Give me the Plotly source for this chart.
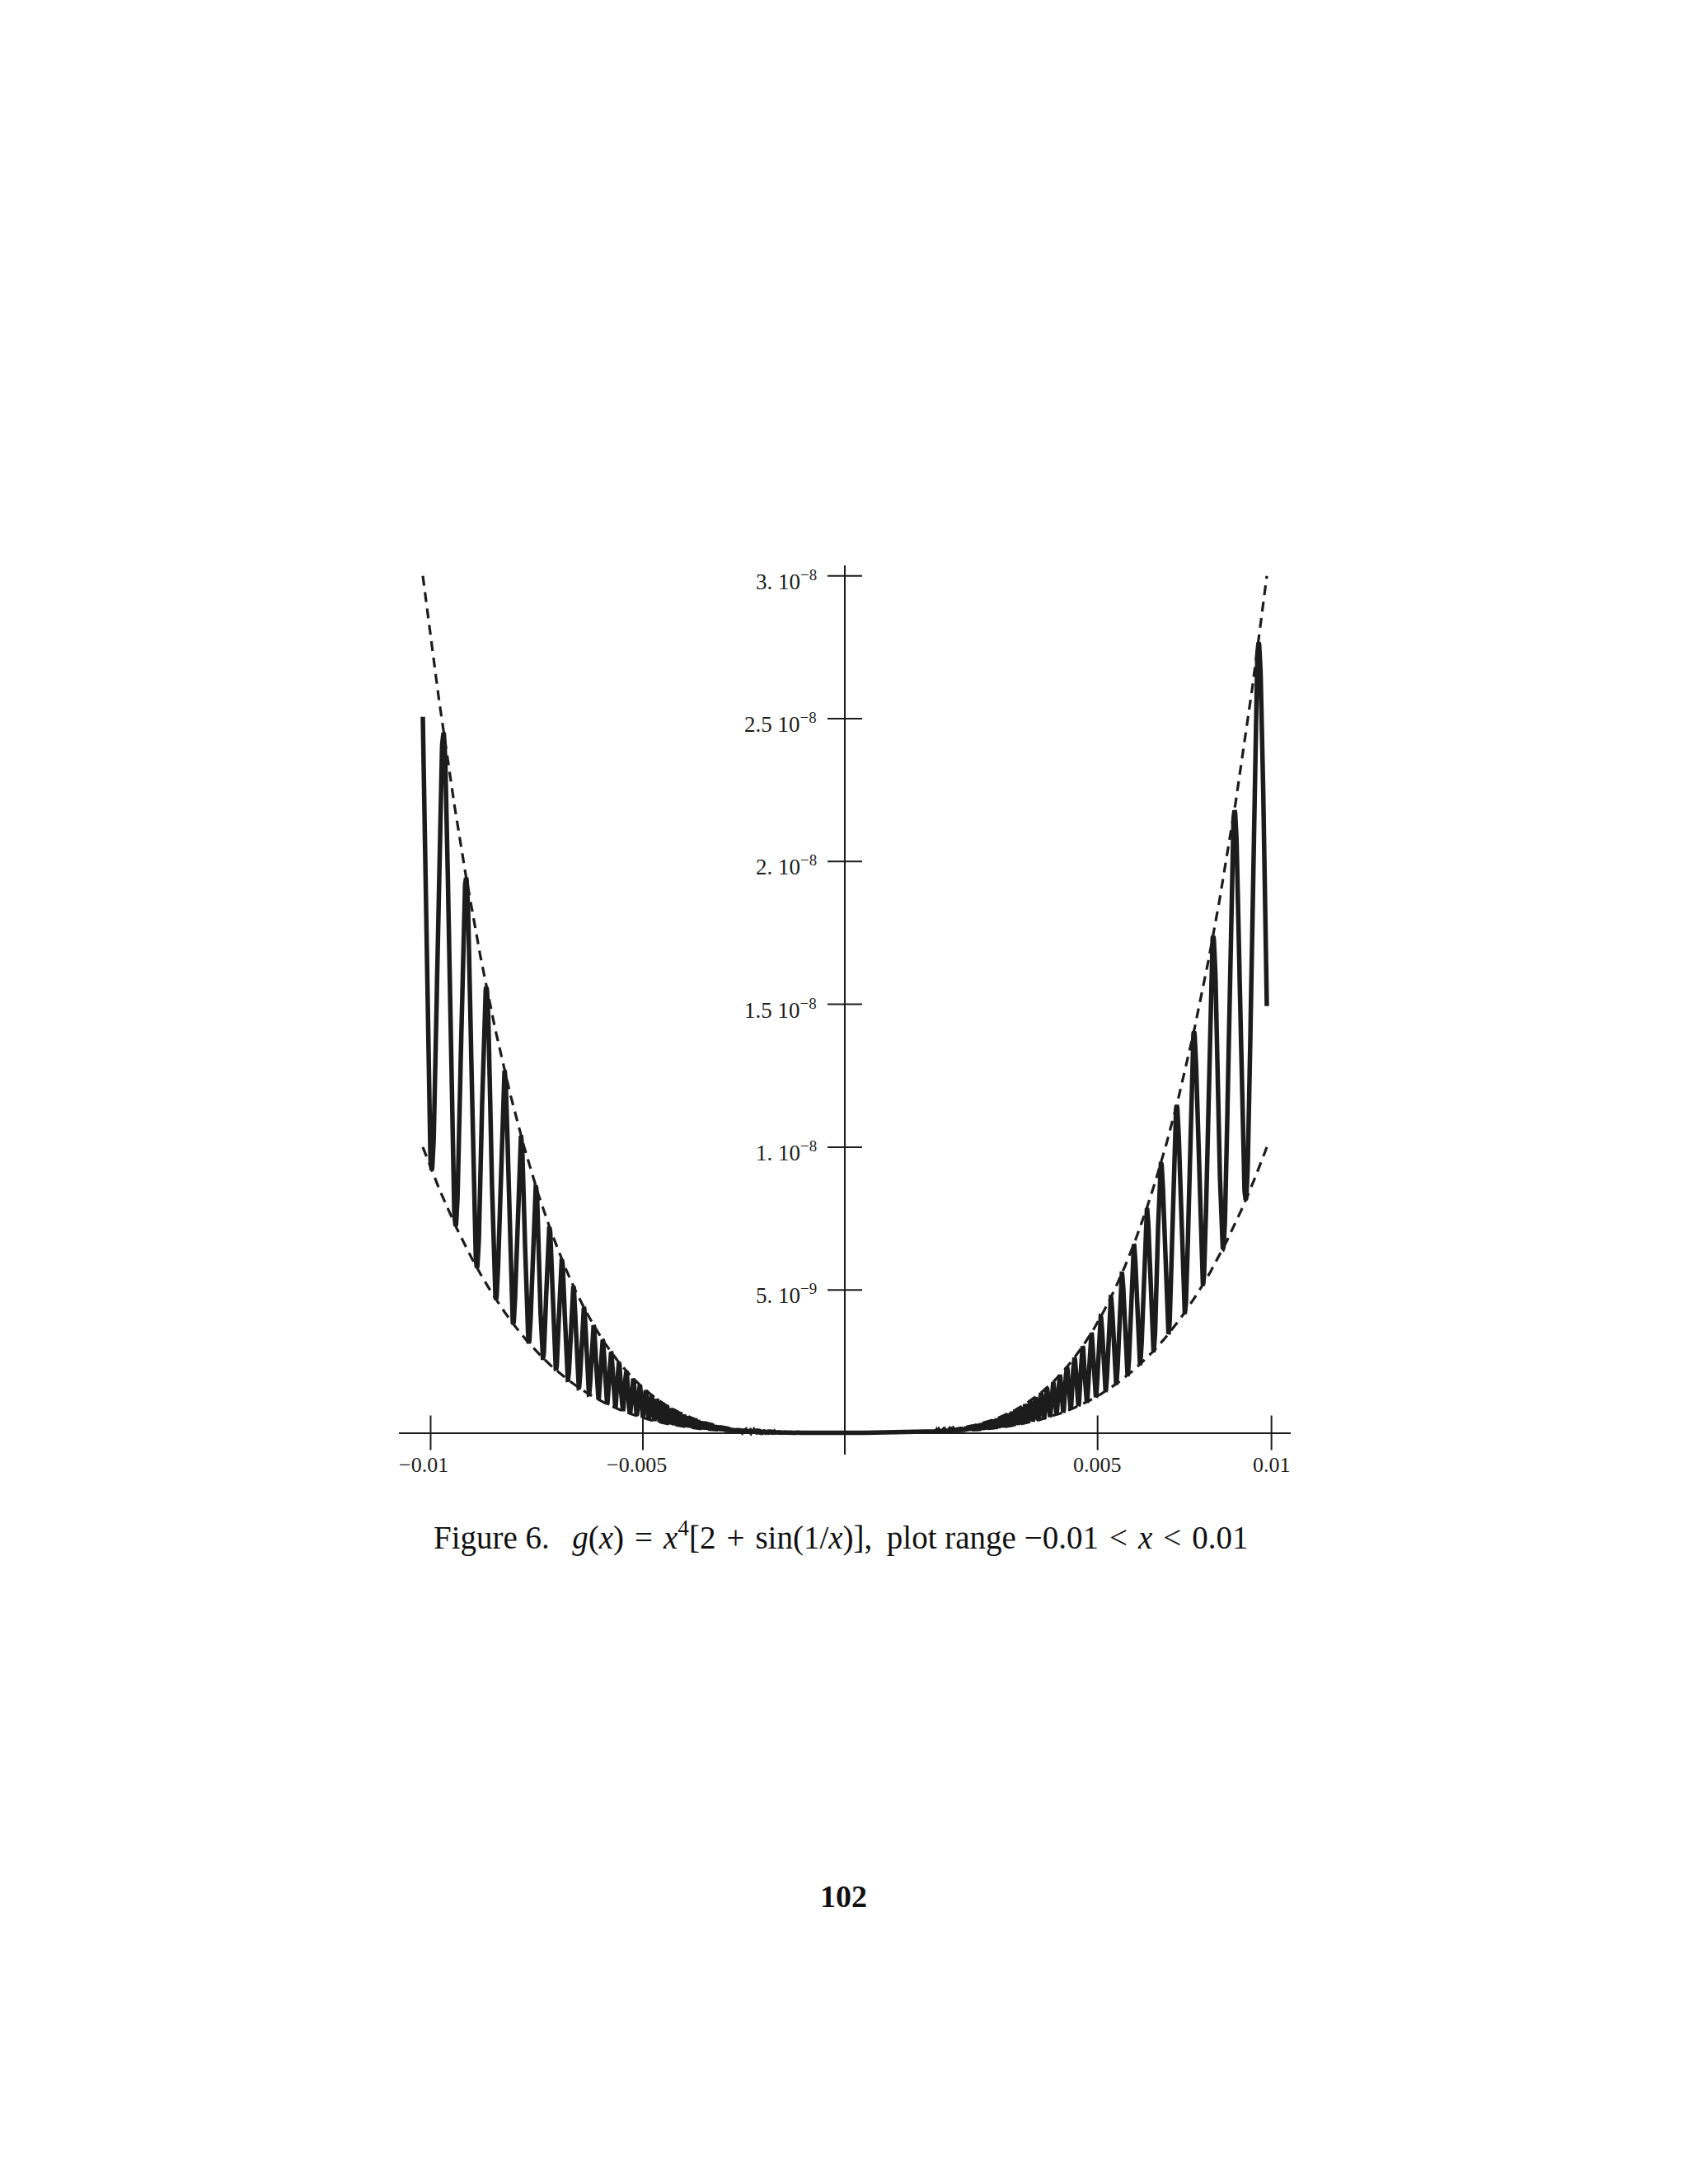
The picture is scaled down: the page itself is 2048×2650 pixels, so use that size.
import numpy as np
import plotly.graph_objects as go

# ---- data ----
# The plotted function g(x) = x^4 [2 + sin(1/x)] is stated in the figure caption;
# the curve and its envelopes x^4 and 3x^4 are sampled over the stated plot range.
x_range_plot = [-0.01, 0.01]
n_samples = 4000
envelope_factors = [1.0, 3.0]

x_tick_vals = [-0.009815, -0.004785, 0.00599, 0.01011]   # where the reference draws its x ticks
x_tick_text = ["\u22120.01", "\u22120.005", "0.005", "0.01"]
y_tick_vals = [5e-9, 1e-8, 1.5e-8, 2e-8, 2.5e-8, 3e-8]
y_tick_text = ["5. 10<sup>\u22129</sup>", "1. 10<sup>\u22128</sup>", "1.5 10<sup>\u22128</sup>",
               "2. 10<sup>\u22128</sup>", "2.5 10<sup>\u22128</sup>", "3. 10<sup>\u22128</sup>"]

NB = "\u00a0"
TH = "\u2009"   # thin space
HR = "\u200a"   # hair space
caption = ("Figure" + NB + "6." + NB * 2 + TH + "<i>g</i>(<i>x</i>)" + NB + HR + "=" + HR + NB +
           "<i>x</i><sup>4</sup>[2" + NB + HR + "+" + HR + NB + "sin(1/<i>x</i>)]," + NB + TH +
           "plot" + NB + "range" + NB + "\u22120.01" + NB + HR + "<" + HR + NB + "<i>x</i>" +
           NB + HR + "<" + HR + NB + "0.01")
page_number = "<b>102</b>"

x = np.linspace(x_range_plot[0], x_range_plot[1], n_samples)
g = x**4 * (2 + np.sin(1 / x))
lower = envelope_factors[0] * x**4
upper = envelope_factors[1] * x**4

# ---- layout geometry (page body has an 8px offset) ----
OFF = 8
W, H = 2048, 2650
L, R, T, B = 484 - OFF, 1566 - OFF, 686 - OFF, 1765 - OFF
ink = "#1c1c1c"

fig = go.Figure()
fig.add_trace(go.Scatter(x=x, y=upper, mode="lines",
                         line=dict(color=ink, width=3.2, dash="12px,8px"), hoverinfo="skip"))
fig.add_trace(go.Scatter(x=x, y=lower, mode="lines",
                         line=dict(color=ink, width=3.2, dash="12px,8px"), hoverinfo="skip"))
fig.add_trace(go.Scatter(x=x, y=g, mode="lines",
                         line=dict(color=ink, width=5.5), hoverinfo="skip"))

# crossing tick marks on the zero lines
fig.add_trace(go.Scatter(x=x_tick_vals, y=[0] * len(x_tick_vals), mode="markers",
                         marker=dict(symbol="line-ns", size=30, line=dict(width=2, color=ink)),
                         hoverinfo="skip", cliponaxis=False))
fig.add_trace(go.Scatter(x=[0] * len(y_tick_vals), y=y_tick_vals, mode="markers",
                         marker=dict(symbol="line-ew", size=30, line=dict(width=2, color=ink)),
                         hoverinfo="skip", cliponaxis=False))

x_font = dict(family="Liberation Serif, Times New Roman, serif", size=26, color=ink)
y_font = dict(family="Liberation Serif, Times New Roman, serif", size=27, color=ink)
for v, t in zip(x_tick_vals, x_tick_text):
    fig.add_annotation(x=v, y=0, text=t, showarrow=False, xanchor="center", yanchor="middle",
                       yshift=-39, xshift=(-8 if t.startswith("\u2212") else 0), font=x_font)
for v, t in zip(y_tick_vals, y_tick_text):
    fig.add_annotation(x=0, y=v, text=t, showarrow=False, xanchor="right", yanchor="middle",
                       xshift=-32, yshift=-5, font=y_font)

def py(pix):
    return (B - (pix - OFF)) / (B - T)

def px(pix):
    return ((pix - OFF) - L) / (R - L)

fig.add_annotation(xref="paper", yref="paper", x=px(1020), y=py(1863), text=caption,
                   showarrow=False, xanchor="center", yanchor="middle",
                   font=dict(family="Liberation Serif, serif", size=39, color="#111111"))
fig.add_annotation(xref="paper", yref="paper", x=px(1023), y=py(2301), text=page_number,
                   showarrow=False, xanchor="center", yanchor="middle",
                   font=dict(family="Liberation Serif, serif", size=38, color="#111111"))

x0px = 1025 - OFF
sx = 51200.0        # px per unit x
y0px = 1738.5 - OFF
sy = 34.66e9        # px per unit y
fig.update_xaxes(range=[(L - x0px) / sx, (R - x0px) / sx], showgrid=False, showticklabels=False,
                 ticks="", showline=False, zeroline=True, zerolinecolor=ink, zerolinewidth=2)
fig.update_yaxes(range=[(y0px - B) / sy, (y0px - T) / sy], showgrid=False, showticklabels=False,
                 ticks="", showline=False, zeroline=True, zerolinecolor=ink, zerolinewidth=2)

fig.update_layout(width=W, height=H, margin=dict(l=L, r=W - R, t=T, b=H - B),
                  paper_bgcolor="white", plot_bgcolor="rgba(0,0,0,0)", showlegend=False)

fig.write_html("out.html", config=dict(displayModeBar=False))
